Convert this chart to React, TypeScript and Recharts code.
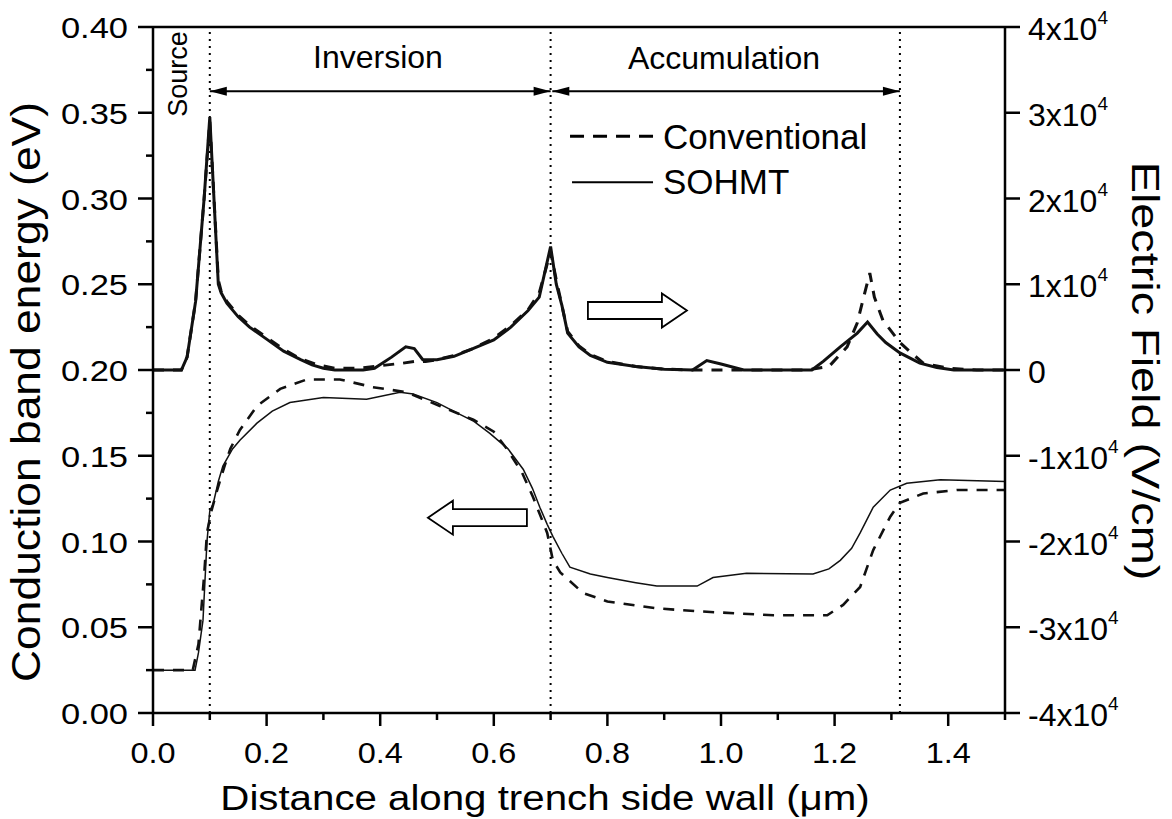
import React from 'react';
import { LineChart, Line, XAxis, YAxis, ReferenceLine, ReferenceDot, Label } from 'recharts';

const FONT = 'Arial, "Liberation Sans", Helvetica, sans-serif';

// conduction band energy (eV), left axis
const cbConvX = [0, 0.07, 0.08, 0.09, 0.095, 0.103, 0.113, 0.125, 0.136, 0.153, 0.183, 0.224, 0.271, 0.329, 0.387, 0.447, 0.505, 0.564, 0.6, 0.623, 0.65, 0.669, 0.694, 0.704, 0.717, 0.757, 0.8, 0.887, 0.975, 1.092, 1.187, 1.215, 1.245, 1.268, 1.298, 1.315, 1.356, 1.415, 1.5];
const cbConvY = [0.025, 0.025, 0.04, 0.08, 0.105, 0.118, 0.13, 0.143, 0.154, 0.165, 0.179, 0.189, 0.1945, 0.1945, 0.19, 0.187, 0.179, 0.171, 0.164, 0.154, 0.14, 0.126, 0.105, 0.089, 0.082, 0.07, 0.065, 0.061, 0.059, 0.057, 0.057, 0.063, 0.0735, 0.095, 0.1145, 0.1225, 0.128, 0.13, 0.13];

const cbSohmtX = [0, 0.074, 0.08, 0.088, 0.095, 0.1, 0.106, 0.115, 0.123, 0.14, 0.153, 0.183, 0.21, 0.241, 0.3, 0.376, 0.435, 0.458, 0.5, 0.535, 0.565, 0.593, 0.625, 0.652, 0.668, 0.681, 0.694, 0.704, 0.72, 0.734, 0.77, 0.8, 0.85, 0.887, 0.958, 0.986, 1.045, 1.162, 1.19, 1.21, 1.23, 1.245, 1.268, 1.298, 1.327, 1.386, 1.5];
const cbSohmtY = [0.025, 0.025, 0.035, 0.054, 0.1, 0.118, 0.122, 0.135, 0.144, 0.154, 0.159, 0.169, 0.176, 0.181, 0.184, 0.183, 0.187, 0.186, 0.181, 0.175, 0.17, 0.163, 0.154, 0.142, 0.131, 0.12, 0.11, 0.103, 0.093, 0.085, 0.081, 0.079, 0.076, 0.074, 0.074, 0.079, 0.0815, 0.081, 0.084, 0.089, 0.096, 0.105, 0.12, 0.13, 0.134, 0.136, 0.135];

// electric field (V/cm), right axis
const efConvX = [0, 0.05, 0.06, 0.075, 0.09, 0.1, 0.105, 0.115, 0.12, 0.13, 0.15, 0.17, 0.2, 0.23, 0.26, 0.29, 0.32, 0.36, 0.4, 0.44, 0.46, 0.48, 0.5, 0.53, 0.56, 0.6, 0.63, 0.66, 0.68, 0.7, 0.71, 0.72, 0.73, 0.75, 0.77, 0.8, 0.85, 0.9, 0.95, 1.15, 1.19, 1.222, 1.24, 1.25, 1.262, 1.27, 1.285, 1.315, 1.335, 1.356, 1.4, 1.45, 1.5];
const efConvY = [0, 0, 1500, 8000, 20000, 29000, 23000, 10500, 9200, 8000, 6400, 5200, 3800, 2400, 1300, 600, 200, 200, 500, 800, 1000, 1000, 1200, 1700, 2400, 3700, 5200, 7000, 9000, 13800, 10500, 7500, 4500, 2800, 1800, 1000, 400, 100, 0, 0, 400, 2700, 5500, 8200, 11300, 8500, 5800, 3200, 2000, 800, 200, 0, 0];

const efSohmtX = [0, 0.05, 0.06, 0.075, 0.09, 0.1, 0.105, 0.115, 0.12, 0.13, 0.15, 0.17, 0.2, 0.23, 0.26, 0.28, 0.3, 0.32, 0.37, 0.39, 0.42, 0.445, 0.46, 0.475, 0.5, 0.53, 0.56, 0.6, 0.63, 0.66, 0.68, 0.7, 0.71, 0.72, 0.73, 0.75, 0.77, 0.8, 0.85, 0.9, 0.95, 0.975, 1.0, 1.04, 1.16, 1.18, 1.21, 1.24, 1.258, 1.275, 1.29, 1.315, 1.35, 1.38, 1.41, 1.5];
const efSohmtY = [0, 0, 1500, 8000, 20000, 29500, 23000, 10000, 9000, 7800, 6200, 5000, 3600, 2200, 1200, 600, 200, 0, 0, 200, 1500, 2700, 2500, 1200, 1200, 1600, 2400, 3500, 5000, 6900, 8500, 14400, 10000, 7500, 4300, 2700, 1700, 900, 400, 100, 0, 1100, 700, 0, 0, 1000, 2700, 4300, 5600, 4200, 3200, 2000, 800, 300, 0, 0];

// ticks
const xTicks = [0, 0.1, 0.2, 0.3, 0.4, 0.5, 0.6, 0.7, 0.8, 0.9, 1.0, 1.1, 1.2, 1.3, 1.4, 1.5];
const leftTicks = [0, 0.025, 0.05, 0.075, 0.1, 0.125, 0.15, 0.175, 0.2, 0.225, 0.25, 0.275, 0.3, 0.325, 0.35, 0.375, 0.4];
const rightTicks = [-40000, -30000, -20000, -10000, 0, 10000, 20000, 30000, 40000];

// region boundaries along the side wall
const regionEdges = [0.1, 0.7, 1.315];

const pts = (xs: number[], ys: number[]) => xs.map((x, i) => ({ x, y: ys[i] }));

const cbConv = pts(cbConvX, cbConvY);
const cbSohmt = pts(cbSohmtX, cbSohmtY);
const efConv = pts(efConvX, efConvY);
const efSohmt = pts(efSohmtX, efSohmtY);

const isMultiple = (v: number, step: number) => Math.abs(v / step - Math.round(v / step)) < 1e-6;

const LeftTick = ({ x, y, payload }: any) => {
  const v = payload.value;
  const major = isMultiple(v, 0.05);
  return (
    <g>
      <line x1={x} x2={x - (major ? 15 : 7)} y1={y} y2={y} stroke="#000" strokeWidth={2.5} />
      {major && (
        <text transform={`translate(${x - 25},${y + 11}) scale(1.15,1)`} textAnchor="end" fontSize={30} fontFamily={FONT} fill="#000">
          {v.toFixed(2)}
        </text>
      )}
    </g>
  );
};

const BottomTick = ({ x, y, payload }: any) => {
  const v = payload.value;
  const major = isMultiple(v, 0.2);
  return (
    <g>
      <line x1={x} x2={x} y1={y} y2={y + (major ? 13 : 7)} stroke="#000" strokeWidth={2.5} />
      {major && (
        <text transform={`translate(${x},${y + 50}) scale(1.12,1)`} textAnchor="middle" fontSize={29} fontFamily={FONT} fill="#000">
          {v.toFixed(1)}
        </text>
      )}
    </g>
  );
};

const RightTick = ({ x, y, payload }: any) => {
  const v = payload.value;
  const n = v / 10000;
  return (
    <g>
      <line x1={x} x2={x + 15} y1={y} y2={y} stroke="#000" strokeWidth={2.5} />
      <text x={x + 23} y={y + 13} fontSize={32} fontFamily={FONT} fill="#000">
        {n === 0 ? '0' : `${n}x10`}
        {n !== 0 && (
          <tspan dy={-16} fontSize={19}>4</tspan>
        )}
      </text>
    </g>
  );
};

const DoubleArrow = ({ x1, y1, x2, y2 }: any) => {
  const L = 17;
  const H = 4.5;
  return (
    <g>
      <line x1={x1} y1={y1} x2={x2} y2={y2} stroke="#000" strokeWidth={2} />
      <polygon points={`${x1},${y1} ${x1 + L},${y1 - H} ${x1 + L},${y1 + H}`} fill="#000" />
      <polygon points={`${x2},${y2} ${x2 - L},${y2 - H} ${x2 - L},${y2 + H}`} fill="#000" />
    </g>
  );
};

// hollow block arrow, tip at (cx, cy), dir 1 = right, -1 = left
const hollowArrow = (dir: number) => ({ cx, cy }: any) => {
  const s = -dir;
  const p = [
    [0, 0],
    [25 * s, -17],
    [25 * s, -8.5],
    [99 * s, -8.5],
    [99 * s, 8.5],
    [25 * s, 8.5],
    [25 * s, 17],
  ];
  return (
    <polygon points={p.map(([a, b]) => `${cx + a},${cy + b}`).join(' ')} fill="#fff" stroke="#000" strokeWidth={1.8} />
  );
};

const textAt = (label: string, size: number, rotate = 0) => ({ cx, cy }: any) => (
  <text
    transform={`translate(${cx},${cy}) rotate(${rotate})`}
    textAnchor="middle"
    fontSize={size}
    fontFamily={FONT}
    fill="#000"
  >
    {label}
  </text>
);

const LegendBox = ({ cx, cy }: any) => (
  <g>
    <line x1={cx} x2={cx + 83} y1={cy} y2={cy} stroke="#000" strokeWidth={3} strokeDasharray="14 9" />
    <text x={cx + 93} y={cy + 13} fontSize={35} fontFamily={FONT} fill="#000">Conventional</text>
    <line x1={cx + 2} x2={cx + 83} y1={cy + 46} y2={cy + 46} stroke="#000" strokeWidth={2} />
    <text x={cx + 93} y={cy + 58} fontSize={35} fontFamily={FONT} fill="#000">SOHMT</text>
  </g>
);

const XTitle = ({ viewBox }: any) => (
  <text
    transform={`translate(${viewBox.x + viewBox.width / 2 - 34},${viewBox.y + 97}) scale(1.15,1)`}
    textAnchor="middle"
    fontSize={35}
    fontFamily={FONT}
    fill="#000"
  >
    Distance along trench side wall (μm)
  </text>
);

const LeftTitle = ({ viewBox }: any) => (
  <text
    transform={`translate(${viewBox.x + 40},${viewBox.y + 365}) rotate(-90) scale(1.11,1)`}
    textAnchor="middle"
    fontSize={40}
    fontFamily={FONT}
    fill="#000"
  >
    Conduction band energy (eV)
  </text>
);

const RightTitle = ({ viewBox }: any) => (
  <text
    transform={`translate(${viewBox.x + 127},${viewBox.y + 344}) rotate(90) scale(1.2,1)`}
    textAnchor="middle"
    fontSize={39}
    fontFamily={FONT}
    fill="#000"
  >
    Electric Field (V/cm)
  </text>
);

const axisStroke = { stroke: '#000', strokeWidth: 2.5 };

export default function App() {
  return (
    <div style={{ position: 'absolute', left: 0, top: 0, width: 1172, height: 819, background: '#fff' }}>
      <LineChart width={1172} height={819} margin={{ top: 27, right: 0, bottom: 0, left: 0 }}>
        <XAxis
          type="number"
          dataKey="x"
          domain={[0, 1.5]}
          ticks={xTicks}
          interval={0}
          height={106}
          allowDataOverflow
          axisLine={axisStroke}
          tickLine={false}
          tickSize={0}
          tickMargin={0}
          tick={BottomTick}
        >
          <Label content={XTitle} />
        </XAxis>
        <YAxis
          yAxisId="left"
          type="number"
          domain={[0, 0.4]}
          ticks={leftTicks}
          interval={0}
          width={153}
          allowDataOverflow
          axisLine={axisStroke}
          tickLine={false}
          tickSize={0}
          tickMargin={0}
          tick={LeftTick}
        >
          <Label content={LeftTitle} />
        </YAxis>
        <YAxis
          yAxisId="right"
          orientation="right"
          type="number"
          domain={[-40000, 40000]}
          ticks={rightTicks}
          interval={0}
          width={167}
          allowDataOverflow
          axisLine={axisStroke}
          tickLine={false}
          tickSize={0}
          tickMargin={0}
          tick={RightTick}
        >
          <Label content={RightTitle} />
        </YAxis>

        <ReferenceLine yAxisId="left" y={0.4} stroke="#000" strokeWidth={2.5} />
        {regionEdges.map((e) => (
          <ReferenceLine key={e} yAxisId="left" x={e} stroke="#000" strokeWidth={2} strokeDasharray="2 5" />
        ))}
        <ReferenceLine
          yAxisId="left"
          segment={[{ x: 0.1, y: 0.3626 }, { x: 0.7, y: 0.3626 }]}
          shape={DoubleArrow}
        />
        <ReferenceLine
          yAxisId="left"
          segment={[{ x: 0.703, y: 0.3626 }, { x: 1.315, y: 0.3626 }]}
          shape={DoubleArrow}
        />

        <Line yAxisId="left" data={cbConv} dataKey="y" type="linear" stroke="#111" strokeWidth={2.6} strokeDasharray="11 9" dot={false} isAnimationActive={false} />
        <Line yAxisId="left" data={cbSohmt} dataKey="y" type="linear" stroke="#111" strokeWidth={1.5} dot={false} isAnimationActive={false} />
        <Line yAxisId="right" data={efConv} dataKey="y" type="linear" stroke="#111" strokeWidth={3} strokeDasharray="11 9" dot={false} isAnimationActive={false} />
        <Line yAxisId="right" data={efSohmt} dataKey="y" type="linear" stroke="#111" strokeWidth={3} dot={false} isAnimationActive={false} />

        <ReferenceDot yAxisId="left" x={0.0599} y={0.3726} r={0} shape={textAt('Source', 27, -90)} />
        <ReferenceDot yAxisId="left" x={0.3961} y={0.3761} r={0} shape={textAt('Inversion', 32)} />
        <ReferenceDot yAxisId="left" x={1.0053} y={0.3755} r={0} shape={textAt('Accumulation', 32)} />
        <ReferenceDot yAxisId="left" x={0.7342} y={0.3363} r={0} shape={LegendBox} />
        <ReferenceDot yAxisId="left" x={0.94} y={0.2347} r={0} shape={hollowArrow(1)} />
        <ReferenceDot yAxisId="left" x={0.484} y={0.1139} r={0} shape={hollowArrow(-1)} />
      </LineChart>
    </div>
  );
}
